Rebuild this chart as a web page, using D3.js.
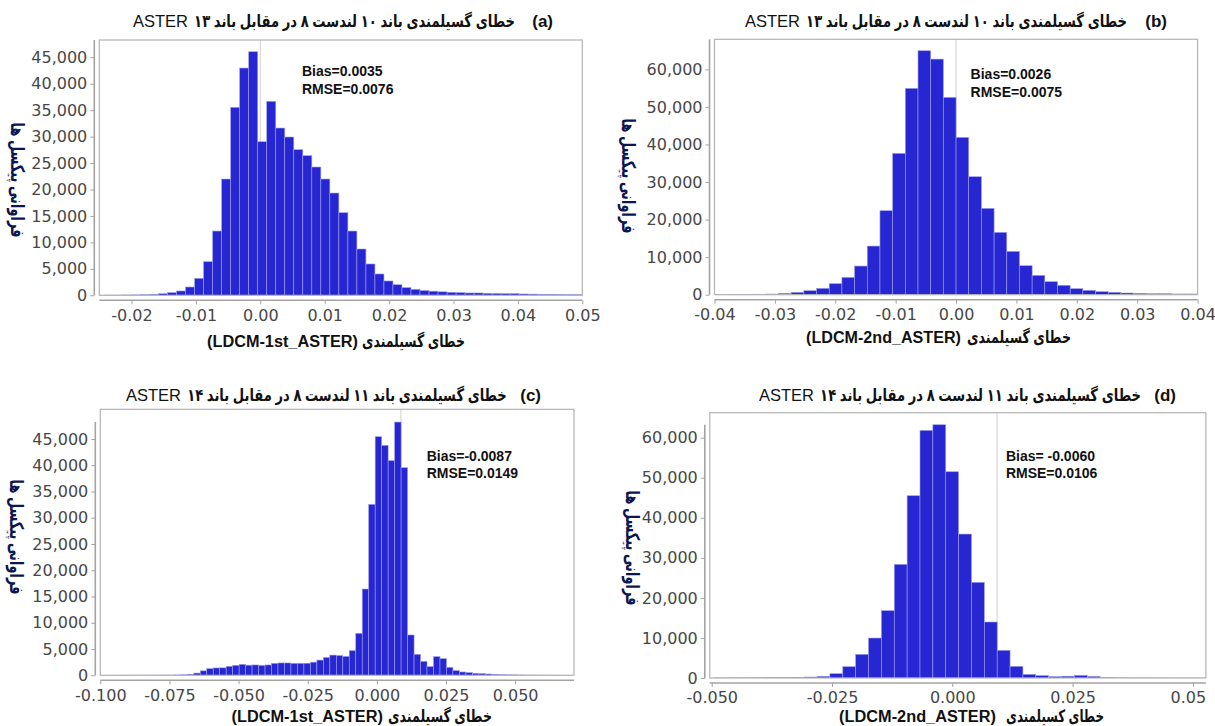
<!DOCTYPE html>
<html>
<head>
<meta charset="utf-8">
<script src="https://cdn.jsdelivr.net/npm/d3@7/dist/d3.min.js"></script>
<style>
  body { margin: 0; background: #fff; }
  svg { display: block; }
</style>
</head>
<body>
<svg id="chart" width="1215" height="726"></svg>
<script>
// ---- data: pixel counts per histogram bin ----
var countsA = [20, 30, 40, 60, 80, 120, 190, 300, 500, 820, 1570, 3200, 6350, 12150, 21980, 35530,
  42960, 46040, 29030, 36670, 31620, 29920, 27520, 26390, 24250, 21980, 19330, 15610, 12150, 8750,
  5920, 4030, 2710, 2000, 1450, 1130, 900, 780, 660, 570, 500, 440, 440, 380, 350, 315, 315, 250,
  220, 190, 190, 160, 130, 130];
var binStartA = -0.0256, binWidthA = 0.0014;

var countsB = [30, 50, 80, 120, 180, 355, 620, 1065, 1690, 2930, 4610, 7630, 12950, 22360, 37620,
  54930, 64950, 62730, 52530, 41880, 31410, 22980, 16590, 11540, 7720, 5150, 3460, 2500, 1600, 1170,
  800, 640, 450, 370, 270, 270, 200, 200];
var binStartB = -0.0399, binWidthB = 0.0021;

var countsC = [10, 10, 15, 15, 20, 20, 25, 30, 35, 40, 50, 70, 100, 200, 420, 850, 1270, 1400, 1420,
  1710, 1900, 2090, 1930, 1970, 1900, 1970, 2280, 2350, 2350, 2280, 2280, 2300, 2500, 2900, 3400,
  3850, 3750, 3600, 4700, 7990, 16430, 32550, 45430, 43780, 40860, 48220, 39530, 7680, 4000, 2660,
  1650, 3550, 3170, 1520, 890, 630, 510, 380, 320, 250, 190, 130, 100, 80, 60, 50, 40, 30, 25, 20,
  15, 10, 10];
var binStartC = -0.099, binWidthC = 0.002343;

var countsD = [20, 30, 40, 60, 80, 120, 170, 250, 420, 1080, 2830, 5910, 9980, 16810, 28370, 45510,
  61820, 63230, 51500, 35940, 23880, 13980, 6910, 2910, 900, 600, 350, 450, 650, 420, 100, 40, 25,
  15, 10, 8, 5, 5, 5];
var binStartD = -0.0495, binWidthD = 0.002674;

// axis ranges and ticks
var xDomainA = [-0.025, 0.05], yMaxA = 48260;
var xDomainB = [-0.04, 0.04], yMaxB = 68000;
var xDomainC = [-0.1, 0.0713], yMaxC = 50650;
var xDomainD = [-0.0504, 0.0527], yMaxD = 66240;

var xTicksA = [-0.02, -0.01, 0, 0.01, 0.02, 0.03, 0.04, 0.05];
var xTicksB = [-0.04, -0.03, -0.02, -0.01, 0, 0.01, 0.02, 0.03, 0.04];
var xTicksC = [-0.1, -0.075, -0.05, -0.025, 0, 0.025, 0.05];
var xTicksD = [-0.05, -0.025, 0, 0.025, 0.05];
var yTicks5k = [0, 5000, 10000, 15000, 20000, 25000, 30000, 35000, 40000, 45000];
var yTicks10k = [0, 10000, 20000, 30000, 40000, 50000, 60000];

// reference (grey) lines
var refA = 0, refB = 0, refC = 0.0087, refD = 0.0093;

// texts
var titleFaAB = 'خطای گسیلمندی باند ۱۰ لندست ۸ در مقابل باند ۱۳';
var titleFaCD = 'خطای گسیلمندی باند ۱۱ لندست ۸ در مقابل باند ۱۴';
var titleLatin = 'ASTER';
var yTitle = 'فراوانی پیکسل ها';
var xTitlesFa = ['خطای گسیلمندی', 'خطای گسیلمندی', 'خطای گسیلمندی', 'خطای کسیلمندی'];
var xTitlesLatin = ['(LDCM-1st_ASTER)', '(LDCM-2nd_ASTER)', '(LDCM-1st_ASTER)', '(LDCM-2nd_ASTER)'];
var statsBias = ['Bias=0.0035', 'Bias=0.0026', 'Bias=-0.0087', 'Bias= -0.0060'];
var statsRmse = ['RMSE=0.0076', 'RMSE=0.0075', 'RMSE=0.0149', 'RMSE=0.0106'];
var letters = ['(a)', '(b)', '(c)', '(d)'];

// ---- layout (pixel positions of each panel) ----
var layouts = [
  { box: [99.3, 40, 582.3, 295.3], axisTopFull: true, letterRight: 553, title: [133, 515], titleBase: 26.7,
    statX: 302, statBase: 76, yLab: [18, 180], xTitL: [207, 358], xTitF: [362, 465], xTitBase: 347, clipRight: 1215 },
  { box: [714.5, 39.3, 1197.6, 294.7], axisTopFull: true, letterRight: 1167, title: [745, 1127], titleBase: 26.7,
    statX: 970.6, statBase: 79.3, yLab: [629, 176], xTitL: [806, 961], xTitF: [967, 1071], xTitBase: 343, clipRight: 1215 },
  { box: [100.3, 409.3, 574, 675.3], axisTopFull: false, letterRight: 541, title: [126, 507], titleBase: 400.5,
    statX: 426.7, statBase: 460.7, yLab: [17, 537], xTitL: [231.5, 383], xTitF: [388, 492], xTitBase: 722, clipRight: 1215 },
  { box: [709.8, 412.7, 1205.9, 678], axisTopFull: false, letterRight: 1176, title: [759, 1141], titleBase: 400.7,
    statX: 1005.9, statBase: 460.7, yLab: [633, 548], xTitL: [839, 996], xTitF: [1006, 1104], xTitBase: 722, clipRight: 1206.5 }
];
var Y_TITLE_LEN = 115;

var panels = [
  { counts: countsA, b0: binStartA, bw: binWidthA, xd: xDomainA, ym: yMaxA, xt: xTicksA, yt: yTicks5k, fmt: '.2f', ref: refA, title: titleFaAB },
  { counts: countsB, b0: binStartB, bw: binWidthB, xd: xDomainB, ym: yMaxB, xt: xTicksB, yt: yTicks10k, fmt: '.2f', ref: refB, title: titleFaAB },
  { counts: countsC, b0: binStartC, bw: binWidthC, xd: xDomainC, ym: yMaxC, xt: xTicksC, yt: yTicks5k, fmt: '.3f', ref: refC, title: titleFaCD },
  { counts: countsD, b0: binStartD, bw: binWidthD, xd: xDomainD, ym: yMaxD, xt: xTicksD, yt: yTicks10k, fmt: '.3f', ref: refD, title: titleFaCD }
];

var LATIN = '"Liberation Sans", Arial, "DejaVu Sans", sans-serif';
var TICKF = '"DejaVu Sans", sans-serif';
var BAR_FILL = '#2626d3', BAR_EDGE = '#9c9cec';
var AXIS_COL = '#a3a3a3', FRAME_COL = '#b3b3b3', TICK_TXT = '#474747';

var svg = d3.select('#chart');

// squeeze a text element horizontally so it fills [x0, x1]
function fitText(sel, x0, x1, base) {
  var w = sel.node().getComputedTextLength();
  var k = (x1 - x0) / w;
  sel.attr('x', 0).attr('y', 0).attr('text-anchor', 'middle')
    .attr('transform', 'translate(' + ((x0 + x1) / 2) + ',' + base + ') scale(' + k + ',1)');
}

panels.forEach(function (p, i) {
  var L = layouts[i];
  var left = L.box[0], top = L.box[1], right = L.box[2], bottom = L.box[3];

  var x = d3.scaleLinear().domain(p.xd).range([left, right]);
  var y = d3.scaleLinear().domain([0, p.ym]).range([bottom, top]);

  var g = svg.append('g').attr('class', 'panel-' + i);

  var clipId = 'clip' + i;
  svg.append('clipPath').attr('id', clipId)
    .append('rect').attr('x', left).attr('y', top).attr('width', right - left).attr('height', bottom - top);

  // reference line behind the bars
  g.append('line')
    .attr('x1', x(p.ref)).attr('x2', x(p.ref))
    .attr('y1', top).attr('y2', bottom)
    .style('stroke', '#d6d6d6').style('stroke-width', 1.2);

  // bars
  g.append('g').attr('clip-path', 'url(#' + clipId + ')')
    .selectAll('rect').data(p.counts).enter().append('rect')
    .attr('x', function (d, k) { return x(p.b0 + k * p.bw); })
    .attr('width', function (d, k) { return x(p.b0 + (k + 1) * p.bw) - x(p.b0 + k * p.bw); })
    .attr('y', function (d) { return y(d); })
    .attr('height', function (d) { return y(0) - y(d); })
    .style('fill', BAR_FILL)
    .style('stroke', BAR_EDGE)
    .style('stroke-width', 0.6);

  // frame
  g.append('rect')
    .attr('x', left).attr('y', top).attr('width', right - left).attr('height', bottom - top)
    .style('fill', 'none').style('stroke', FRAME_COL).style('stroke-width', 1.2);

  // y axis, offset left of the frame
  var yAxisX = left - 5;
  var yTop = L.axisTopFull ? top : y(d3.max(p.counts));
  var yAxis = d3.axisLeft(y).tickValues(p.yt).tickSize(4).tickPadding(3).tickFormat(d3.format(','));
  var ya = g.append('g').attr('transform', 'translate(' + yAxisX + ',0)').call(yAxis);
  ya.select('.domain').remove();
  ya.append('line').attr('x1', 0).attr('x2', 0).attr('y1', yTop).attr('y2', bottom)
    .style('stroke', AXIS_COL).style('stroke-width', 1.6);
  ya.selectAll('.tick line').style('stroke', AXIS_COL);
  ya.selectAll('.tick text').style('font-family', TICKF).style('font-size', '16px').style('fill', TICK_TXT);

  // x axis, offset below the frame
  var xAxis = d3.axisBottom(x).tickValues(p.xt).tickSize(4).tickPadding(5)
    .tickFormat(function (v) { return d3.format(p.fmt)(v).replace('\u2212', '-'); });
  var xClip = 'xclip' + i;
  svg.append('clipPath').attr('id', xClip)
    .append('rect').attr('x', 0).attr('y', bottom).attr('width', L.clipRight).attr('height', 60);
  var xa = g.append('g').attr('clip-path', 'url(#' + xClip + ')')
    .append('g').attr('transform', 'translate(0,' + (bottom + 5) + ')').call(xAxis);
  xa.select('.domain').remove();
  xa.append('line').attr('x1', left).attr('x2', right).attr('y1', 0).attr('y2', 0)
    .style('stroke', AXIS_COL).style('stroke-width', 1.6);
  xa.selectAll('.tick line').style('stroke', AXIS_COL);
  xa.selectAll('.tick text').style('font-family', TICKF).style('font-size', '16px').style('fill', TICK_TXT);

  // stats text
  g.append('text').attr('x', L.statX).attr('y', L.statBase).text(statsBias[i])
    .style('font-family', LATIN).style('font-weight', 'bold').style('font-size', '14px').style('fill', '#111');
  g.append('text').attr('x', L.statX).attr('y', L.statBase + 17.5).text(statsRmse[i])
    .style('font-family', LATIN).style('font-weight', 'bold').style('font-size', '14px').style('fill', '#111');

  // title: letter on the right, "ASTER" on the left, persian words between
  g.append('text').attr('x', L.letterRight).attr('y', L.titleBase)
    .attr('text-anchor', 'end').text(letters[i])
    .style('font-family', LATIN).style('font-weight', 'bold').style('font-size', '17px').style('fill', '#111');
  var at = g.append('text').attr('x', L.title[0]).attr('y', L.titleBase).text(titleLatin)
    .style('font-family', LATIN).style('font-size', '16.5px').style('fill', '#111');
  var aw = at.node().getComputedTextLength();
  var tt = g.append('text').attr('direction', 'rtl').text(p.title)
    .style('font-family', LATIN).style('font-weight', 'bold').style('font-size', '17px').style('fill', '#111');
  fitText(tt, L.title[0] + aw + 6, L.title[1], L.titleBase);

  // x title: latin part left, persian part right
  var xl = g.append('text').text(xTitlesLatin[i])
    .style('font-family', LATIN).style('font-weight', 'bold').style('font-size', '17px').style('fill', '#111');
  fitText(xl, L.xTitL[0], L.xTitL[1], L.xTitBase);
  var xf = g.append('text').attr('direction', 'rtl').text(xTitlesFa[i])
    .style('font-family', LATIN).style('font-weight', 'bold').style('font-size', '17px').style('fill', '#111');
  fitText(xf, L.xTitF[0], L.xTitF[1], L.xTitBase);

  // y title, rotated so it reads top to bottom
  var yt = g.append('text').attr('direction', 'rtl').attr('text-anchor', 'middle').attr('dy', '0.35em')
    .text(yTitle)
    .style('font-family', LATIN).style('font-weight', 'bold').style('font-size', '19px').style('fill', '#0b1550');
  var yw = yt.node().getComputedTextLength();
  yt.attr('transform', 'translate(' + L.yLab[0] + ',' + L.yLab[1] + ') rotate(90) scale(' + (Y_TITLE_LEN / yw) + ',1)');
});
</script>
</body>
</html>
